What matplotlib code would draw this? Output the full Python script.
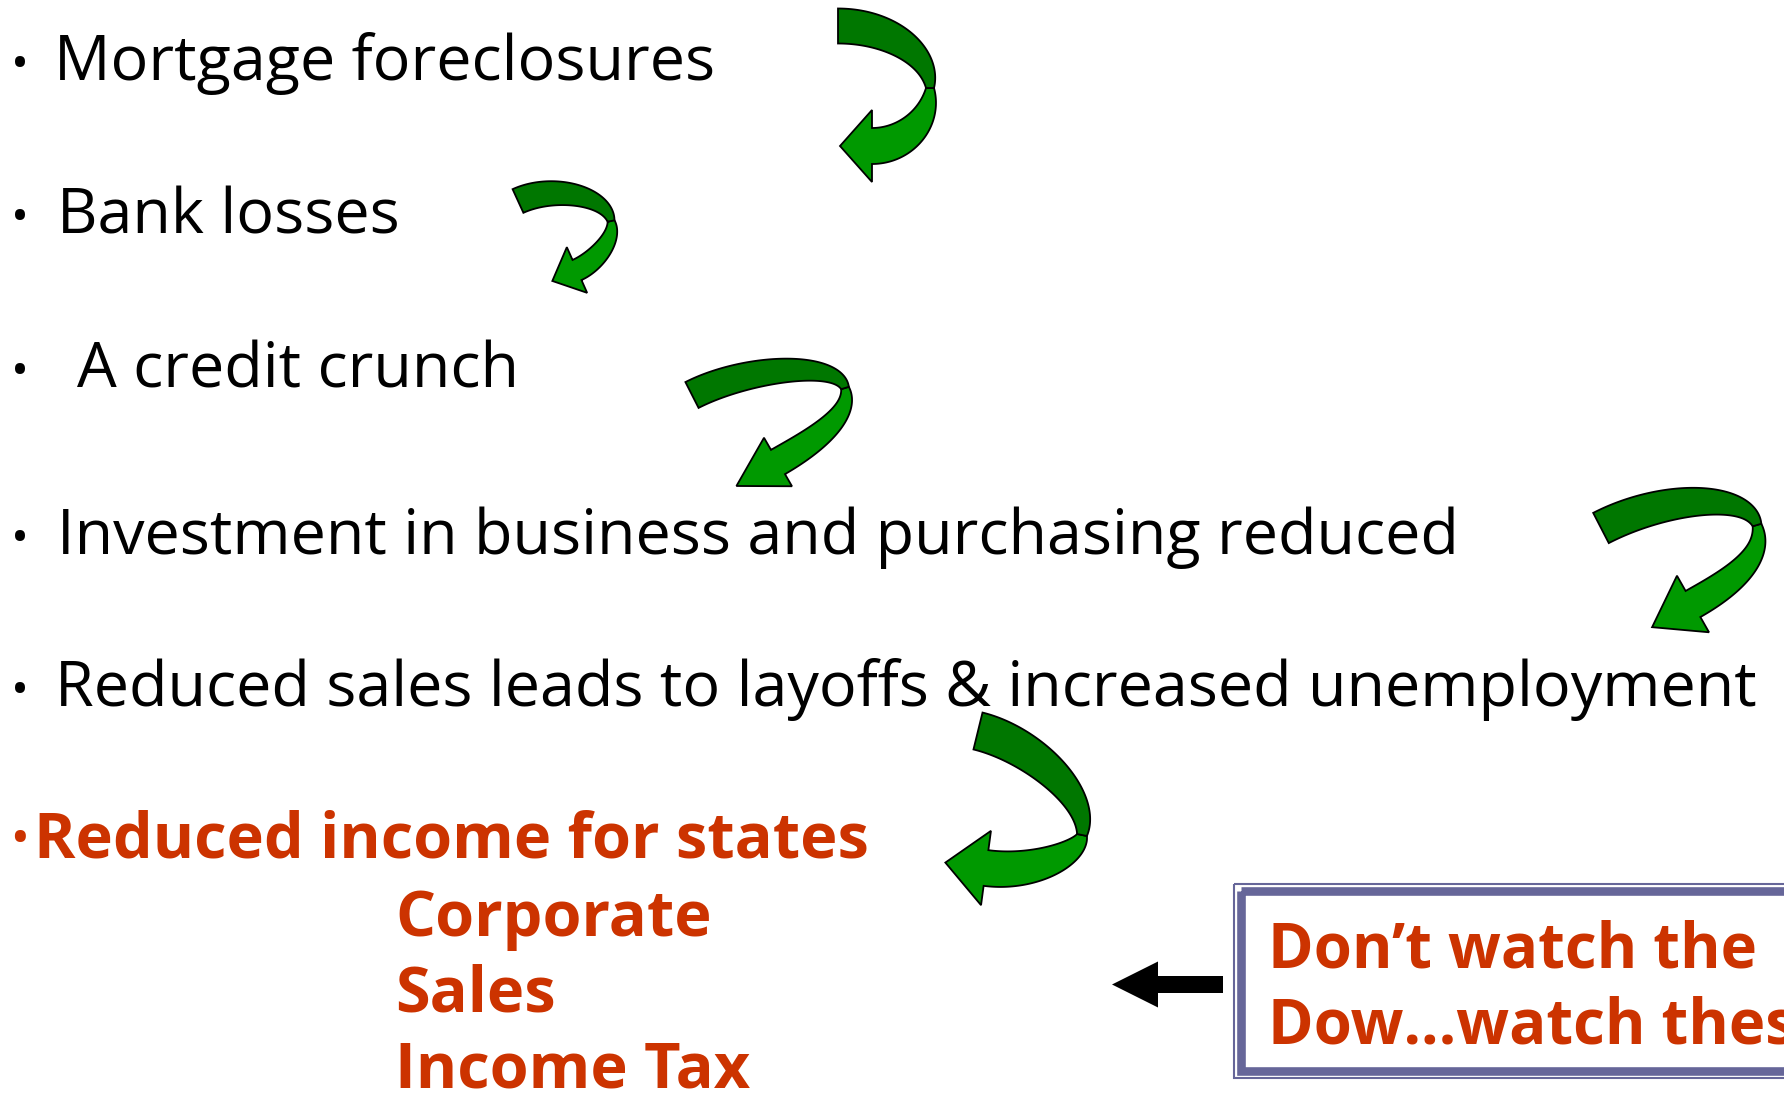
import numpy as np
import matplotlib
matplotlib.use("Agg")
import matplotlib.pyplot as plt
from matplotlib import font_manager as fm
from matplotlib.patches import Polygon, Rectangle
from matplotlib.font_manager import FontProperties
from matplotlib.textpath import TextPath

W, H, DPI = 1784, 1093, 100

# ---- text content -------------------------------------------------------
black_lines = ["Mortgage foreclosures", "Bank losses", "A credit crunch",
               "Investment in business and purchasing reduced",
               "Reduced sales leads to layoffs & increased unemployment"]
black_left = [54, 57, 77, 57, 55]
black_right = [737, 390, 538, 1456, 1758]
black_base = [80, 233, 387, 554, 706]

red_lines = ["Reduced income for states", "Corporate", "Sales", "Income Tax"]
red_left = [34, 395, 395, 395]
red_right = [862, 696, 557, 759]
red_base = [858, 936, 1012, 1088]

box_lines = ["Don\u2019t watch the", "Dow\u2026watch these"]
box_left = 1268
box_right_first = 1758
box_base = [967, 1043]

# ---- curved ribbon arrows (cubic Bezier centrelines) ---------------------
arrows = [
    dict(A=[(838, 26), (889, 26), (930, 54), (930, 88)],
         B=[(930, 88), (930, 120), (904, 146), (872, 146)],
         wt=35, wf=8, we=36, hw=72, hl=32),
    dict(A=[(518, 201), (553, 185), (606, 195), (611, 221)],
         B=[(611, 221), (616, 238), (595, 262), (577, 270)],
         wt=26, wf=7, we=22, hw=50, hl=27),
    dict(A=[(692, 395), (745, 368), (836, 359), (845, 388)],
         B=[(845, 388), (854, 417), (804, 447), (778, 462)],
         wt=29, wf=8, we=28, hw=56, hl=48),
    dict(A=[(1601, 528), (1663, 496), (1747, 491), (1757, 525)],
         B=[(1757, 525), (1767, 559), (1723, 587), (1693, 604)],
         wt=34, wf=9, we=30, hw=65, hl=47),
    dict(A=[(978, 731), (1031, 744), (1090, 796), (1082, 835)],
         B=[(1082, 835), (1078, 855), (1031, 874), (986, 868)],
         wt=38, wf=10, we=36, hw=75, hl=41),
]

BLACK = "#000000"
RED = "#CC3300"
DARK_G = "#007700"
LIGHT_G = "#009900"
SLATE = "#666699"


def _w(f):
    w = f.weight
    if isinstance(w, str):
        return 700 if w in ("bold", "heavy", "black", "extra bold") else 400
    return int(w)


def pick_family(cands):
    names = {}
    for f in fm.fontManager.ttflist:
        names.setdefault(f.name, []).append(_w(f))
    for c in cands:
        if c in names and max(names[c]) >= 600 and min(names[c]) <= 500:
            return c
    return "DejaVu Sans"


FAM = pick_family(["Noto Sans", "Open Sans", "Lato", "Roboto",
                   "Liberation Sans", "DejaVu Sans"])

fig = plt.figure(figsize=(W / DPI, H / DPI), dpi=DPI)
fig.patch.set_facecolor("white")
ax = fig.add_axes([0, 0, 1, 1])
ax.set_xlim(0, W)
ax.set_ylim(H, 0)
ax.axis("off")
renderer = fig.canvas.get_renderer()


def fit_size(texts, lefts, rights, weight):
    ratios = []
    for s, l, r in zip(texts, lefts, rights):
        t = ax.text(0, 500, s, fontsize=50, family=FAM, weight=weight)
        bb = t.get_window_extent(renderer=renderer)
        ratios.append((r - l) / bb.width)
        t.remove()
    return 50 * float(np.median(ratios))


def bullet(x, y, color, weight, diam):
    fp = FontProperties(family=FAM, weight=weight, size=10)
    ext = TextPath((0, 0), "\u2022", size=10, prop=fp).get_extents()
    gw = ext.width * DPI / 72
    fs = 10 * diam / gw
    k = fs / 10 * DPI / 72
    cy = (ext.y0 + ext.y1) / 2 * k
    ax.text(x, y + cy, "\u2022", fontsize=fs, family=FAM, weight=weight,
            color=color, ha="center", va="baseline")


fs_black = fit_size(black_lines, black_left, black_right, "normal")
fs_red = fit_size(red_lines, red_left, red_right, "bold")
fs_box = fit_size(box_lines[:1], [box_left], [box_right_first], "bold")

for s, x, y in zip(black_lines, black_left, black_base):
    ax.text(x, y, s, fontsize=fs_black, family=FAM, color=BLACK,
            ha="left", va="baseline")
    bullet(20, y - 18, BLACK, "normal", 10)

for s, x, y in zip(red_lines, red_left, red_base):
    ax.text(x, y, s, fontsize=fs_red, family=FAM, weight="bold", color=RED,
            ha="left", va="baseline")
bullet(20, red_base[0] - 22, RED, "bold", 11)

for s, y in zip(box_lines, box_base):
    ax.text(box_left, y, s, fontsize=fs_box, family=FAM, weight="bold",
            color=RED, ha="left", va="baseline", clip_on=False)

# ---- framed box ---------------------------------------------------------
ax.add_patch(Rectangle((1233.5, 883.5), 700, 194.5, fill=False,
                       ec=SLATE, lw=1.5, zorder=1))
ax.add_patch(Rectangle((1241, 891), 700, 179.5, fill=False,
                       ec=SLATE, lw=6.2, zorder=1))

# ---- black straight arrow ----------------------------------------------
ax.arrow(1223, 984.5, -111, 0, width=17, head_width=46, head_length=46,
         length_includes_head=True, fc="black", ec="black", lw=0)


# ---- green ribbon arrows -----------------------------------------------
def bez(P, t):
    P = np.asarray(P, float)
    t = t[:, None]
    return ((1 - t) ** 3) * P[0] + 3 * ((1 - t) ** 2) * t * P[1] \
        + 3 * (1 - t) * t ** 2 * P[2] + t ** 3 * P[3]


def bez_d(P, t):
    P = np.asarray(P, float)
    t = t[:, None]
    return 3 * (1 - t) ** 2 * (P[1] - P[0]) + 6 * (1 - t) * t * (P[2] - P[1]) \
        + 3 * t ** 2 * (P[3] - P[2])


def edges(P, wfun, n=80):
    t = np.linspace(0, 1, n)
    c = bez(P, t)
    d = bez_d(P, t)
    d /= np.linalg.norm(d, axis=1)[:, None]
    nrm = np.stack([-d[:, 1], d[:, 0]], axis=1)
    w = wfun(t)[:, None] / 2
    return c + nrm * w, c - nrm * w, c[-1], d[-1], nrm[-1]


for a in arrows:
    wt, wf, we = a["wt"], a["wf"], a["we"]
    l1, r1, _, _, _ = edges(a["A"], lambda t: wf + (wt - wf) * (1 - t ** 2))
    l2, r2, cend, dend, nend = edges(a["B"],
                                     lambda t: wf + (we - wf) * (1 - (1 - t) ** 2))
    hw, hl = a["hw"], a["hl"]
    head = [cend + nend * hw / 2, cend + dend * hl, cend - nend * hw / 2]
    bright = np.vstack([l2, head, r2[::-1]])
    dark = np.vstack([l1, r1[::-1]])
    ax.add_patch(Polygon(bright, closed=True, fc=LIGHT_G, ec="black",
                         lw=1.3, joinstyle="miter", zorder=3))
    ax.add_patch(Polygon(dark, closed=True, fc=DARK_G, ec="black",
                         lw=1.3, joinstyle="miter", zorder=3))

fig.savefig("out.png", dpi=DPI, facecolor="white")
